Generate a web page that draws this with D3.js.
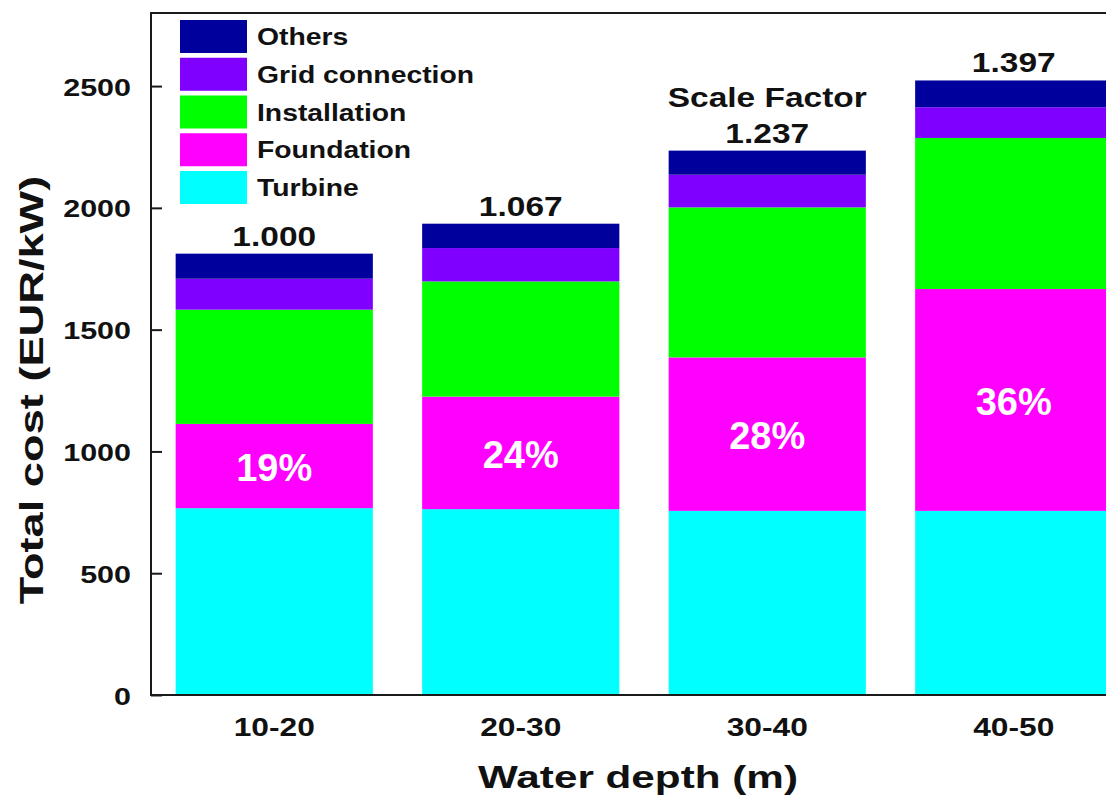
<!DOCTYPE html>
<html>
<head>
<meta charset="utf-8">
<script src="https://cdn.jsdelivr.net/npm/d3@7"></script>
<style>
  html, body { margin: 0; padding: 0; background: #fff; overflow: hidden; }
  text { font-family: "Liberation Sans", Arial, sans-serif; font-weight: bold; }
</style>
</head>
<body>
<div id="chart"></div>
<script>
// data (EUR/kW)
const depths = ["10-20", "20-30", "30-40", "40-50"];
const turbine = [767, 763, 756, 756];
const foundation = [346, 462, 630, 911];
const installation = [469, 473, 616, 620];
const gridConnection = [127, 137, 134, 126];
const others = [103, 100, 99, 110];
const scaleFactors = ["1.000", "1.067", "1.237", "1.397"];
const foundationShare = ["19%", "24%", "28%", "36%"];
const yTicks = [0, 500, 1000, 1500, 2000, 2500];

const seriesNames = ["Turbine", "Foundation", "Installation", "Grid connection", "Others"];
const seriesColors = ["#00ffff", "#ff00ff", "#00ff00", "#8000ff", "#00009c"];

// table for d3.stack
const rows = depths.map((d, i) => ({
    depth: d,
    "Turbine": turbine[i],
    "Foundation": foundation[i],
    "Installation": installation[i],
    "Grid connection": gridConnection[i],
    "Others": others[i]
}));

const W = 1106, H = 795;
const plot = { left: 151, right: 1137, top: 13, bottom: 695 };

const svg = d3.select("#chart").append("svg")
    .attr("width", W)
    .attr("height", H);

const x = d3.scaleBand()
    .domain(depths)
    .range([plot.left, plot.right])
    .paddingInner(0.2)
    .paddingOuter(0.1);

const y = d3.scaleLinear()
    .domain([0, 2800])
    .range([plot.bottom, plot.top]);

const color = d3.scaleOrdinal().domain(seriesNames).range(seriesColors);

const stacked = d3.stack().keys(seriesNames)(rows);

// bars
svg.append("g")
    .selectAll("g")
    .data(stacked)
    .join("g")
    .attr("fill", d => color(d.key))
    .selectAll("rect")
    .data(d => d)
    .join("rect")
    .attr("x", d => x(d.data.depth))
    .attr("y", d => y(d[1]))
    .attr("width", x.bandwidth())
    .attr("height", d => y(d[0]) - y(d[1]));

// wide-looking text helper (the figure's font is stretched sideways)
function wideText(g, px, py, str, size, sx, anchor) {
    return g.append("text")
        .attr("transform", `translate(${px},${py}) scale(${sx},1)`)
        .attr("text-anchor", anchor || "middle")
        .style("font-size", size + "px")
        .text(str);
}

// frame
svg.append("rect")
    .attr("x", plot.left)
    .attr("y", plot.top)
    .attr("width", plot.right - plot.left)
    .attr("height", plot.bottom - plot.top)
    .attr("fill", "none")
    .attr("stroke", "#1a1a1a")
    .attr("stroke-width", 2);

// y axis, ticks pointing inwards
const yAxis = svg.append("g")
    .attr("transform", `translate(${plot.left},0)`)
    .call(d3.axisLeft(y).tickValues(yTicks).tickFormat(d3.format("d")).tickSize(-11).tickPadding(20));
yAxis.select(".domain").remove();
yAxis.selectAll(".tick line").attr("stroke", "#1a1a1a").attr("stroke-width", 2);
yAxis.selectAll(".tick text")
    .attr("x", null)
    .attr("dy", null)
    .attr("fill", "#111")
    .style("font-size", "24px")
    .attr("transform", "translate(-20,9) scale(1.27,1)");

// x axis labels
const xAxis = svg.append("g")
    .attr("transform", `translate(0,${plot.bottom})`)
    .call(d3.axisBottom(x).tickSize(0).tickPadding(0));
xAxis.select(".domain").remove();
xAxis.selectAll(".tick text")
    .attr("y", null)
    .attr("dy", null)
    .attr("fill", "#111")
    .style("font-size", "26px")
    .attr("transform", "translate(0,41) scale(1.22,1)");

// axis titles
wideText(svg, (plot.left + plot.right) / 2 - 6, 788, "Water depth (m)", 32, 1.32).attr("fill", "#111");
svg.append("text")
    .attr("transform", "translate(43,390) rotate(-90) scale(1.33,1)")
    .attr("text-anchor", "middle")
    .attr("fill", "#111")
    .style("font-size", "34px")
    .text("Total cost (EUR/kW)");

// scale factor labels above each bar
const totals = stacked[stacked.length - 1];
depths.forEach((d, i) => {
    const cx = x(d) + x.bandwidth() / 2;
    wideText(svg, cx, y(totals[i][1]) - 8, scaleFactors[i], 27, 1.24).attr("fill", "#111");
});
wideText(svg, x(depths[2]) + x.bandwidth() / 2, y(totals[2][1]) - 44, "Scale Factor", 27, 1.24)
    .attr("fill", "#111");

// foundation share inside the magenta segments
const fnd = stacked[1];
depths.forEach((d, i) => {
    const cx = x(d) + x.bandwidth() / 2;
    const cy = (y(fnd[i][0]) + y(fnd[i][1])) / 2;
    wideText(svg, cx, cy + 15, foundationShare[i], 38, 1.0).attr("fill", "#fff");
});

// legend, top entry = Others
const legendOrder = seriesNames.slice().reverse();
const legend = svg.append("g").attr("transform", "translate(180,20)");
legendOrder.forEach((name, i) => {
    const row = legend.append("g").attr("transform", `translate(0,${i * 37.75})`);
    row.append("rect")
        .attr("width", 67)
        .attr("height", 33)
        .attr("fill", color(name));
    wideText(row, 77, 25, name, 24, 1.18, "start").attr("fill", "#111");
});
</script>
</body>
</html>
